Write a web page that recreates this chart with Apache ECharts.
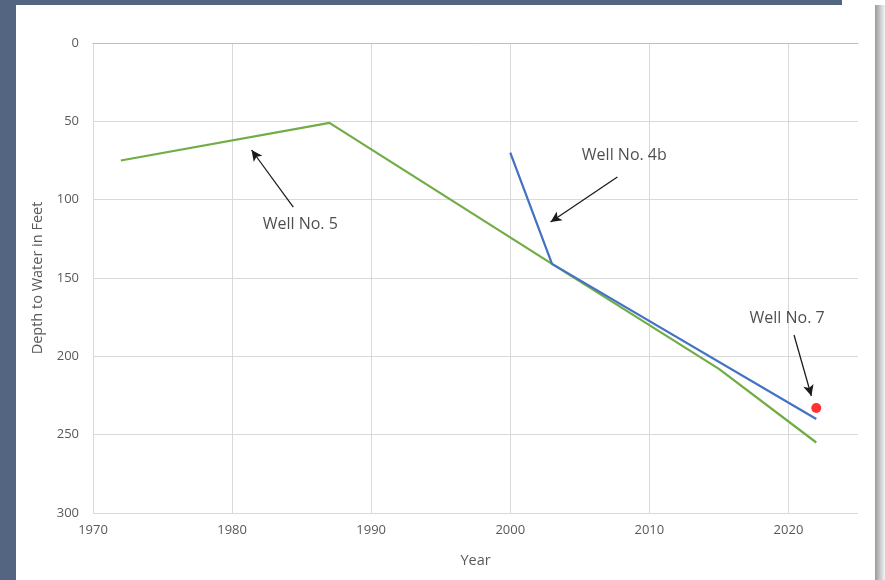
<!DOCTYPE html>
<html>
<head>
<meta charset="utf-8">
<style>
  html, body { margin: 0; padding: 0; background: #ffffff; }
  #chart { width: 885px; height: 580px; }
</style>
<script src="https://cdn.jsdelivr.net/npm/echarts@6/dist/echarts.min.js"></script>
</head>
<body>
<div id="chart"></div>
<script>
// Depth to water readings, [year, depth in feet]
const well5 = [[1972, 75], [1987, 51], [2003, 141], [2015, 208], [2022, 255]];
const well4b = [[2000, 70], [2003, 141], [2022, 240]];
const well7 = [[2022, 233]];

// Callout text anchors and arrows, in [year, depth]
const calloutNames = ['Well No. 5', 'Well No. 4b', 'Well No. 7'];
const calloutText = [[1984.9, 115.5], [2008.2, 71.5], [2019.9, 175.5]];
const arrowTails = [[1984.4, 104.7], [2007.7, 85.5], [2020.4, 186.4]];
const arrowHeads = [[1981.4, 68.3], [2002.9, 114.3], [2021.65, 225.3]];

const FONT = '"Open Sans", "Noto Sans", sans-serif';
const chart = echarts.init(document.getElementById('chart'), null, { renderer: 'canvas' });

chart.setOption({
  animation: false,
  backgroundColor: '#ffffff',
  graphic: [
    { type: 'rect', shape: { x: 0, y: 0, width: 16, height: 580 }, style: { fill: '#546582' }, silent: true, z: -10 },
    { type: 'rect', shape: { x: 0, y: 0, width: 842, height: 5 }, style: { fill: '#546582' }, silent: true, z: -10 },
    {
      type: 'rect', shape: { x: 875, y: 5, width: 10, height: 575 }, silent: true, z: -10,
      style: {
        fill: new echarts.graphic.LinearGradient(0, 0, 1, 0, [
          { offset: 0, color: '#9a9a9a' },
          { offset: 1, color: '#f4f4f4' }
        ])
      }
    }
  ],
  grid: { left: 93, top: 43, right: 27, bottom: 67, containLabel: false },
  xAxis: {
    type: 'value',
    min: 1970,
    max: 2025,
    interval: 10,
    name: 'Year',
    nameLocation: 'middle',
    nameGap: 40,
    nameTextStyle: { color: '#595959', fontSize: 14.5, fontFamily: FONT },
    axisLine: { show: true, lineStyle: { color: '#bfbfbf', width: 1 } },
    axisTick: { show: false },
    axisLabel: {
      color: '#595959', fontSize: 13, fontFamily: FONT, margin: 11,
      showMaxLabel: false,
      formatter: v => String(v)
    },
    splitLine: { show: true, showMaxLine: false, lineStyle: { color: '#d9d9d9', width: 1 } }
  },
  yAxis: {
    type: 'value',
    inverse: true,
    min: 0,
    max: 300,
    interval: 50,
    name: 'Depth to Water in Feet',
    nameLocation: 'middle',
    nameGap: 43,
    nameTextStyle: { color: '#595959', fontSize: 14.5, fontFamily: FONT },
    axisLine: { show: true, lineStyle: { color: '#d9d9d9', width: 1 } },
    axisTick: { show: false },
    axisLabel: { color: '#595959', fontSize: 13, fontFamily: FONT, margin: 14 },
    splitLine: { show: true, lineStyle: { color: '#d9d9d9', width: 1 } }
  },
  series: [
    {
      name: 'Well No. 5',
      type: 'line',
      data: well5,
      showSymbol: false,
      symbol: 'none',
      lineStyle: { color: '#70ad47', width: 2.25 },
      z: 2
    },
    {
      name: 'Well No. 4b',
      type: 'line',
      data: well4b,
      showSymbol: false,
      symbol: 'none',
      lineStyle: { color: '#4472c4', width: 2.25 },
      z: 3
    },
    {
      name: 'Well No. 7',
      type: 'scatter',
      data: well7,
      symbol: 'circle',
      symbolSize: 10,
      itemStyle: { color: '#ff0000' },
      z: 4
    },
    {
      name: 'callouts',
      type: 'scatter',
      data: calloutText.map((c, i) => ({ value: c, name: calloutNames[i] })),
      symbolSize: 0,
      silent: true,
      label: {
        show: true,
        position: 'inside',
        formatter: p => p.name,
        color: '#1f1f1f',
        fontSize: 16,
        fontFamily: FONT
      },
      markLine: {
        silent: true,
        symbol: ['none', 'arrow'],
        symbolSize: [8, 11],
        label: { show: false },
        lineStyle: { color: '#1a1a1a', width: 1.25, type: 'solid' },
        data: arrowTails.map((t, i) => [{ coord: t }, { coord: arrowHeads[i] }])
      },
      z: 5
    }
  ]
});
</script>
</body>
</html>
